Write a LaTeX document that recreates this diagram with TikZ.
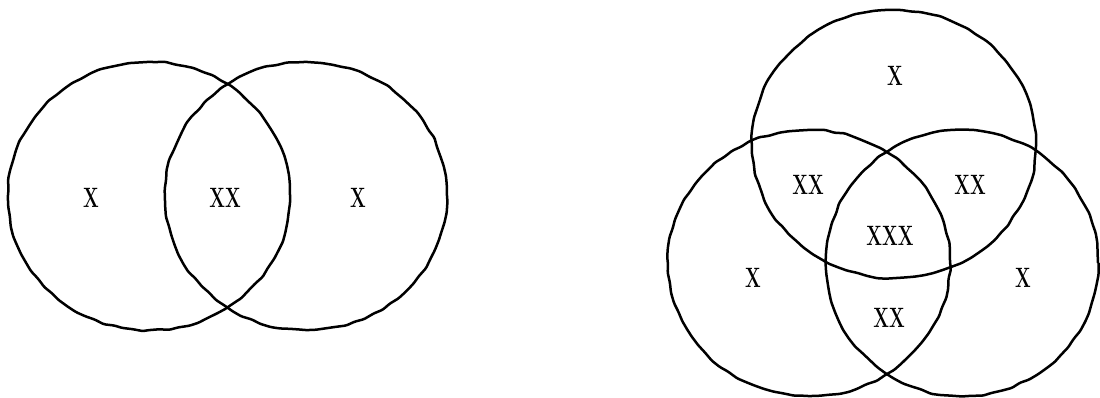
\documentclass[tikz,border=0pt]{standalone}
\usetikzlibrary{decorations.pathmorphing}
\newcommand\venntag[1]{\scalebox{0.66}[1]{#1}}

\begin{document}
\begin{tikzpicture}[
  x=1pt, y=-1pt,
  ring/.style={draw, line width=2.5pt, rounded corners=1.5pt, decorate,
               decoration={random steps, segment length=10pt, amplitude=0.9pt}},
  tag/.style={font=\fontsize{28}{28}\selectfont\bfseries, inner sep=0pt}]
\pgfmathsetseed{11}
\useasboundingbox (0,0) rectangle (1100,398);
% two sets
\draw[ring] (149,196) ellipse [x radius=141pt, y radius=134pt];
\draw[ring] (306,196) ellipse [x radius=141pt, y radius=134pt];
\node[tag] (lone) at (91,198) {\venntag{X}};
\node[tag] (ltwo) at (225,198) {\venntag{XX}};
\node[tag] (lthree) at (358,198) {\venntag{X}};
% three sets
\draw[ring] (894,144) ellipse [x radius=142pt, y radius=134pt];
\draw[ring] (809,263) ellipse [x radius=141pt, y radius=133pt];
\draw[ring] (962,263) ellipse [x radius=136pt, y radius=133pt];
\node[tag] (top) at (895,76) {\venntag{X}};
\node[tag] (topleft) at (808,185) {\venntag{XX}};
\node[tag] (topright) at (970,185) {\venntag{XX}};
\node[tag] (middle) at (890,236) {\venntag{XXX}};
\node[tag] (left) at (753,278) {\venntag{X}};
\node[tag] (right) at (1023,278) {\venntag{X}};
\node[tag] (bottom) at (889,318) {\venntag{XX}};
\end{tikzpicture}
\end{document}
